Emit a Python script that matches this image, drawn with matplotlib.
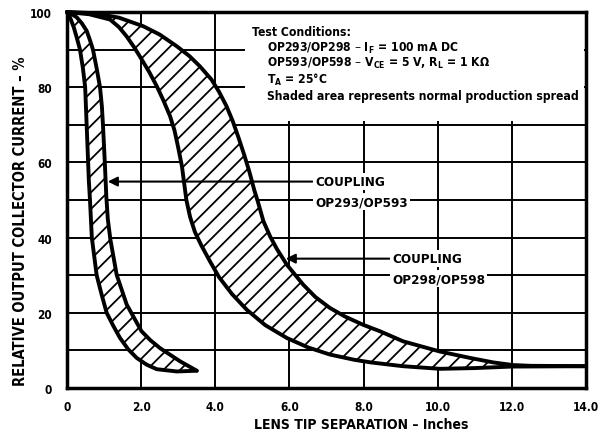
import matplotlib
matplotlib.use("Agg")
import matplotlib.pyplot as plt
from matplotlib.patches import Rectangle

plt.rcParams['font.family'] = ['DejaVu Sans']
plt.rcParams['font.weight'] = 'bold'
plt.rcParams['axes.labelweight'] = 'bold'
plt.rcParams['font.stretch'] = 'condensed'
plt.rcParams['mathtext.default'] = 'bf'
plt.rcParams['hatch.linewidth'] = 1.3

# narrow band (OP293/OP593), lower-left edge and upper-right edge
narrow_lo_x = [0.0, 0.08, 0.18, 0.26, 0.35, 0.43, 0.49, 0.53, 0.57, 0.59, 0.62, 0.67, 0.80,
               0.93, 1.07, 1.25, 1.43, 1.65, 1.88, 2.15, 2.42, 2.96, 3.50]
narrow_lo_y = [100, 98.6, 96, 93.3, 90, 85, 80, 70, 60, 55, 50, 40, 30,
               25, 20, 16.5, 13.3, 10.3, 8.0, 6.2, 5.0, 4.4, 4.6]
narrow_hi_x = [0.0, 0.12, 0.26, 0.40, 0.53, 0.62, 0.70, 0.80, 0.89, 0.94, 0.97, 1.02, 1.06,
               1.10, 1.17, 1.34, 1.61, 2.01, 2.25, 2.51, 3.05, 3.50]
narrow_hi_y = [100, 99.5, 98.6, 97, 95, 92.5, 90, 85, 80, 75, 70, 60, 51,
               45, 39.5, 30.1, 22.2, 15.1, 12.7, 10.6, 7.1, 4.6]

# wide band (OP298/OP598)
wide_lo_x = [0.0, 0.6, 1.16, 1.40, 1.61, 1.82, 2.02, 2.22, 2.42, 2.60, 2.78, 2.90, 2.99,
             3.10, 3.16, 3.22, 3.32, 3.45, 3.62, 3.85, 4.10, 4.45, 4.85, 5.35, 5.93, 6.50,
             7.09, 7.75, 8.20, 9.06, 10.06, 11.0, 12.0, 14.0]
wide_lo_y = [100, 99.4, 98, 96, 93.5, 90.5, 87.3, 84, 80.3, 76.5, 72.3, 68.5, 64.4,
             59, 54.5, 50, 45.5, 41.5, 38, 33.8, 29.5, 25, 20.8, 16.7, 13.3, 10.8,
             8.9, 7.5, 6.8, 5.8, 5.1, 5.3, 5.7, 5.8]
wide_hi_x = [0.0, 0.71, 1.40, 2.06, 2.50, 2.96, 3.30, 3.59, 3.90, 4.10, 4.30, 4.47, 4.63,
             4.78, 4.92, 5.05, 5.15, 5.30, 5.48, 5.66, 5.93, 6.37, 6.70, 7.09, 7.50, 7.99,
             8.44, 9.07, 10.06, 10.87, 11.5, 12.03, 12.5, 14.0]
wide_hi_y = [100, 99.7, 98.5, 96.2, 94, 90.9, 88.3, 85.5, 82, 78.8, 75, 71, 66.5,
             62, 57.5, 52.7, 49.5, 44.3, 40.3, 37, 32.8, 27.5, 24.2, 21.3, 19, 16.8,
             15.1, 12.4, 9.7, 8.0, 6.8, 6.1, 5.9, 5.8]

x_ticks = [0, 2, 4, 6, 8, 10, 12, 14]
x_labels = ['0', '2.0', '4.0', '6.0', '8.0', '10.0', '12.0', '14.0']
y_ticks = [0, 10, 20, 30, 40, 50, 60, 70, 80, 90, 100]
y_labels = ['0', '', '20', '', '40', '', '60', '', '80', '', '100']

conditions = [
    'Test Conditions:',
    'OP293/OP298 – I$_F$ = 100 mA DC',
    'OP593/OP598 – V$_{CE}$ = 5 V, R$_L$ = 1 KΩ',
    'T$_A$ = 25°C',
    'Shaded area represents normal production spread',
]

fig = plt.figure(figsize=(5.98, 4.35), dpi=100)
ax = fig.add_axes([67 / 598, 46 / 435, 519 / 598, 376 / 435])

ax.set_xlim(0, 14)
ax.set_ylim(0, 100)
ax.set_xticks(x_ticks)
ax.set_xticklabels(x_labels)
ax.set_yticks(y_ticks)
ax.set_yticklabels(y_labels)
ax.tick_params(length=0, labelsize=8.5)
ax.tick_params(axis='x', pad=9)
ax.tick_params(axis='y', pad=11)
ax.set_axisbelow(True)
ax.grid(True, color='black', lw=1.4)
for s in ax.spines.values():
    s.set_linewidth(2.5)

# hatched bands
ax.fill(narrow_lo_x + narrow_hi_x[::-1], narrow_lo_y + narrow_hi_y[::-1],
        facecolor='white', edgecolor='black', hatch='//', lw=0, zorder=2)
ax.fill(wide_lo_x + wide_hi_x[::-1], wide_lo_y + wide_hi_y[::-1],
        facecolor='white', edgecolor='black', hatch='//', lw=0, zorder=2)
for xs, ys in [(narrow_lo_x, narrow_lo_y), (narrow_hi_x, narrow_hi_y),
               (wide_lo_x, wide_lo_y), (wide_hi_x, wide_hi_y)]:
    ax.plot(xs, ys, color='black', lw=2.8, zorder=3, solid_capstyle='round',
            solid_joinstyle='round', clip_on=False)

# blank area for the test conditions
ax.add_patch(Rectangle((4.8, 71.0), 9.15, 28.9, facecolor='white', edgecolor='none', zorder=1))
ax.text(4.99, 94.9, conditions[0], fontsize=8.7, va='center', zorder=4)
for txt, yy in zip(conditions[1:], [90.7, 86.7, 82.2, 77.7]):
    ax.text(5.4, yy, txt, fontsize=8.7, va='center', zorder=4)

# coupling labels
box = dict(facecolor='white', edgecolor='none', pad=1.5)
ax.annotate('', xy=(1.1, 54.9), xytext=(6.62, 54.9),
            arrowprops=dict(arrowstyle='-|>', color='black', lw=1.5, mutation_scale=14,
                            shrinkA=0, shrinkB=0), zorder=4)
ax.text(6.69, 54.9, 'COUPLING', fontsize=9.6, va='center', bbox=box, zorder=5)
ax.text(6.69, 49.6, 'OP293/OP593', fontsize=9.6, va='center', bbox=box, zorder=5)
ax.annotate('', xy=(5.9, 34.4), xytext=(8.7, 34.4),
            arrowprops=dict(arrowstyle='-|>', color='black', lw=1.5, mutation_scale=14,
                            shrinkA=0, shrinkB=0), zorder=4)
ax.text(8.77, 34.4, 'COUPLING', fontsize=9.6, va='center', bbox=box, zorder=5)
ax.text(8.77, 29.1, 'OP298/OP598', fontsize=9.6, va='center', bbox=box, zorder=5)

ax.set_xlabel('LENS TIP SEPARATION – Inches', fontsize=10)
ax.xaxis.set_label_coords(0.566, -0.077)
ax.set_ylabel('RELATIVE OUTPUT COLLECTOR CURRENT – %', fontsize=10.5)
ax.yaxis.set_label_coords(-0.075, 0.445)

fig.savefig('out.png', dpi=100)
